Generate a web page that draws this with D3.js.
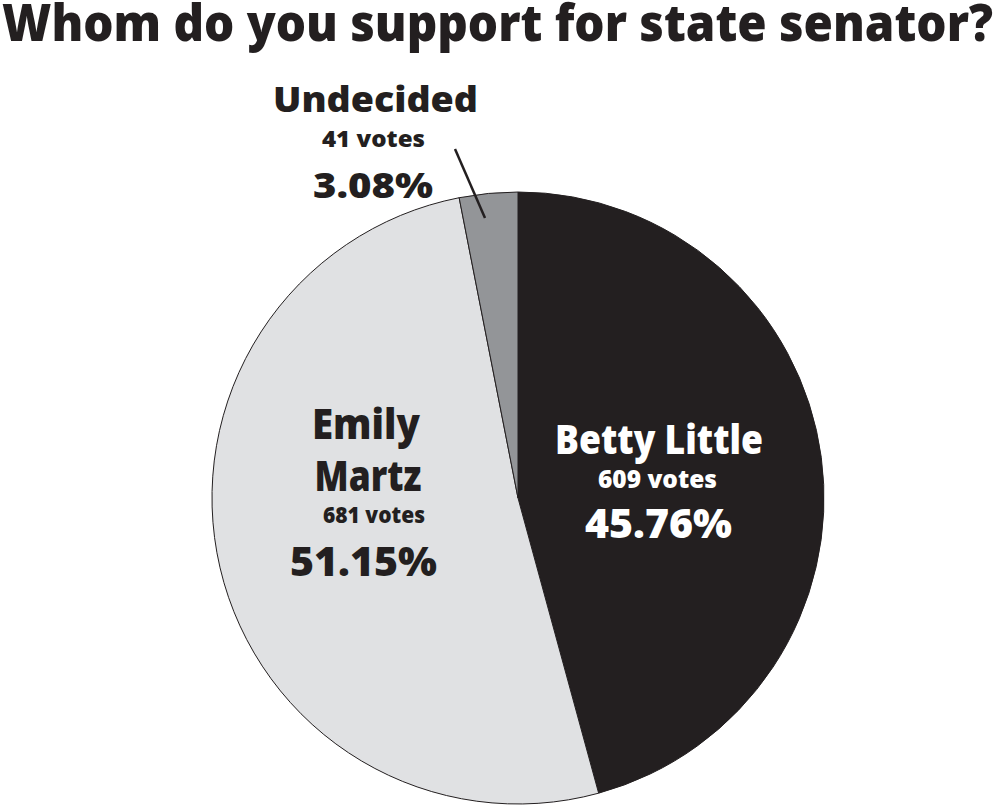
<!DOCTYPE html>
<html>
<head>
<meta charset="utf-8">
<script src="https://cdn.jsdelivr.net/npm/d3@7/dist/d3.min.js"></script>
<style>
  html, body { margin: 0; padding: 0; background: #ffffff; }
  svg { display: block; }
  text { font-family: "Open Sans", "DejaVu Sans", sans-serif; font-weight: 800; }
</style>
</head>
<body>
<svg id="chart" width="1000" height="809"></svg>
<script>
// ---- data ----
const candidates = ["Betty Little", "Emily Martz", "Undecided"];
const votes = [609, 681, 41];
const voteLabels = ["609 votes", "681 votes", "41 votes"];
const percentLabels = ["45.76%", "51.15%", "3.08%"];
const title = "Whom do you support for state senator?";

// ---- styles / layout ----
const sliceColors = ["#231f20", "#e0e1e3", "#939598"];
const textColors = ["#ffffff", "#231f20", "#231f20"];
const ink = "#231f20";
const cx = 518, cy = 498, radius = 306;

const svg = d3.select("#chart");

// title
svg.append("text")
  .attr("x", 2).attr("y", 41)
  .attr("font-size", 51)
  .attr("fill", ink)
  .attr("textLength", 991)
  .attr("lengthAdjust", "spacingAndGlyphs")
  .text(title);

const pie = d3.pie().sort(null).value(d => d.v).startAngle(0).endAngle(2 * Math.PI);
const arcs = pie(candidates.map((c, i) => ({ name: c, v: votes[i], i })));
const arc = d3.arc().innerRadius(0).outerRadius(radius);

const g = svg.append("g").attr("transform", `translate(${cx},${cy})`);
g.selectAll("path.slice")
  .data(arcs)
  .join("path")
  .attr("class", "slice")
  .attr("d", arc)
  .attr("fill", d => sliceColors[d.data.i])
  .attr("stroke", ink)
  .attr("stroke-width", 1);

// leader line for Undecided (annotation)
svg.append("line")
  .attr("x1", 455).attr("y1", 149)
  .attr("x2", 485).attr("y2", 218)
  .attr("stroke", ink)
  .attr("stroke-width", 2.5);

// label layout: lines per candidate: x center, baseline y, font-size, width
const labelLayout = [
  [ // Betty Little
    { t: () => candidates[0], x: 659, y: 454, fs: 41, w: 208 },
    { t: () => voteLabels[0], x: 657.5, y: 488, fs: 24, w: 119 },
    { t: () => percentLabels[0], x: 658.5, y: 538, fs: 40, w: 147 }
  ],
  [ // Emily Martz (two-line name)
    { t: () => candidates[1].split(" ")[0], x: 366, y: 439, fs: 43, w: 108 },
    { t: () => candidates[1].split(" ")[1], x: 368, y: 491, fs: 43, w: 107 },
    { t: () => voteLabels[1], x: 374, y: 523, fs: 23, w: 102 },
    { t: () => percentLabels[1], x: 363.5, y: 576, fs: 40, w: 147 }
  ],
  [ // Undecided
    { t: () => candidates[2], x: 375.5, y: 112, fs: 36, w: 205 },
    { t: () => voteLabels[2], x: 373.5, y: 147, fs: 23, w: 103 },
    { t: () => percentLabels[2], x: 373, y: 198, fs: 36, w: 120 }
  ]
];

labelLayout.forEach((lines, i) => {
  svg.append("g").selectAll("text")
    .data(lines)
    .join("text")
    .attr("x", d => d.x)
    .attr("y", d => d.y)
    .attr("font-size", d => d.fs)
    .attr("text-anchor", "middle")
    .attr("fill", textColors[i])
    .attr("textLength", d => d.w)
    .attr("lengthAdjust", "spacingAndGlyphs")
    .text(d => d.t());
});
</script>
</body>
</html>
